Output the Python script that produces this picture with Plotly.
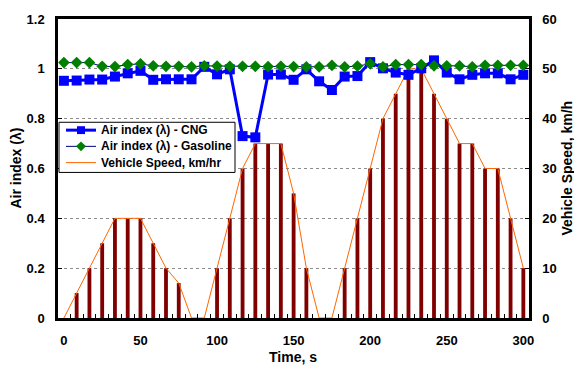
import plotly.graph_objects as go

time_s = [0, 8.33, 16.67, 25, 33.33, 41.67, 50, 58.33, 66.67, 75, 83.33, 91.67,
          100, 108.33, 116.67, 125, 133.33, 141.67, 150, 158.33, 166.67, 175,
          183.33, 191.67, 200, 208.33, 216.67, 225, 233.33, 241.67, 250, 258.33,
          266.67, 275, 283.33, 291.67, 300]

speed_kmh = [0, 5, 10, 15, 20, 20, 20, 15, 10, 7, 0, 0,
             10, 20, 30, 35, 35, 35, 25, 10, 0, 0,
             10, 20, 30, 40, 45, 50, 50, 45, 40, 35,
             35, 30, 30, 20, 10]

lambda_cng = [0.952, 0.953, 0.957, 0.957, 0.969, 0.982, 0.992, 0.956, 0.958, 0.958, 0.958, 1.008,
              0.978, 0.998, 0.730, 0.725, 0.977, 0.977, 0.956, 0.998, 0.950, 0.915,
              0.969, 0.971, 1.027, 1.002, 0.985, 0.976, 1.002, 1.034, 0.985, 0.958,
              0.976, 0.982, 0.982, 0.958, 0.976]

lambda_gasoline = [1.025, 1.025, 1.025, 1.010, 1.009, 1.017, 1.020, 1.012, 1.010, 1.010, 1.008, 1.012,
                   1.011, 1.010, 1.010, 1.010, 1.009, 1.010, 1.009, 1.008, 1.008, 1.014,
                   1.008, 1.011, 1.020, 1.008, 1.017, 1.017, 1.017, 1.012, 1.012, 1.012,
                   1.008, 1.014, 1.014, 1.014, 1.014]

x_ticks = [0, 50, 100, 150, 200, 250, 300]

series_names = ["Air index (λ) - CNG", "Air index (λ) - Gasoline", "Vehicle Speed, km/hr"]

FONT = "Arial, Liberation Sans, sans-serif"
C_CNG, C_GAS_LINE, C_GAS_MK, C_SPEED, C_BAR = "#0000FF", "#000080", "#008000", "#FF6600", "#800000"

W, H = 574, 374
ML, MR, MT, MB = 58, 45, 14, 56
pw, ph = W - ML - MR, H - MT - MB


def px_x(px):
    return (px - ML) / pw


def px_y(py):
    return (H - MB - py) / ph


fig = go.Figure()

fig.add_trace(go.Bar(x=time_s, y=speed_kmh, width=2.5, marker=dict(color=C_BAR, line=dict(width=0)),
                     showlegend=False, yaxis="y", hoverinfo="skip"))
fig.add_trace(go.Scatter(x=time_s, y=speed_kmh, mode="lines", name=series_names[2],
                         line=dict(color=C_SPEED, width=1), yaxis="y", showlegend=False))
fig.add_trace(go.Scatter(x=time_s, y=lambda_cng, mode="lines+markers", name=series_names[0],
                         line=dict(color=C_CNG, width=3),
                         marker=dict(symbol="square", size=10, color=C_CNG),
                         yaxis="y2", showlegend=False))
fig.add_trace(go.Scatter(x=time_s, y=lambda_gasoline, mode="lines+markers", name=series_names[1],
                         line=dict(color=C_GAS_LINE, width=1),
                         marker=dict(symbol="diamond", size=9, color=C_GAS_MK),
                         yaxis="y2", showlegend=False))

axis_font = dict(family=FONT, size=13, color="black", weight="bold")

# ---- manual legend box (pixel layout) ----
lg_left, lg_right, lg_top, lg_bot = 59, 235, 119, 170
rows = [127, 143.5, 160]
line_x0, line_x1, mk_x, txt_x = 66, 96, 81, 99

shapes = [dict(type="rect", xref="paper", yref="paper",
               x0=px_x(lg_left), x1=px_x(lg_right), y0=px_y(lg_bot), y1=px_y(lg_top),
               fillcolor="white", line=dict(color="black", width=1), layer="above")]
styles = [(C_CNG, 3), (C_GAS_LINE, 1), (C_SPEED, 1)]
for (col, lw), ry in zip(styles, rows):
    shapes.append(dict(type="line", xref="paper", yref="paper",
                       x0=px_x(line_x0), x1=px_x(line_x1), y0=px_y(ry), y1=px_y(ry),
                       line=dict(color=col, width=lw), layer="above"))
# square marker for CNG
s = 4
shapes.append(dict(type="rect", xref="paper", yref="paper",
                   x0=px_x(mk_x - s), x1=px_x(mk_x + s), y0=px_y(rows[0] + s), y1=px_y(rows[0] - s),
                   fillcolor=C_CNG, line=dict(width=0), layer="above"))
# diamond marker for gasoline
d = 5
cx, cy = px_x(mk_x), px_y(rows[1])
dx, dy = d / pw, d / ph
shapes.append(dict(type="path", xref="paper", yref="paper",
                   path=f"M {cx - dx} {cy} L {cx} {cy + dy} L {cx + dx} {cy} L {cx} {cy - dy} Z",
                   fillcolor=C_GAS_MK, line=dict(width=0), layer="above"))

annotations = [
    dict(text="<b>Time, s</b>", x=px_x(293), y=px_y(358), xref="paper", yref="paper",
         xanchor="center", yanchor="middle", showarrow=False, font=dict(family=FONT, size=14)),
    dict(text="<b>Air index (λ)</b>", x=px_x(15), y=px_y(166), xref="paper", yref="paper",
         xanchor="center", yanchor="middle", showarrow=False, textangle=-90,
         font=dict(family=FONT, size=14)),
    dict(text="<b>Vehicle Speed, km/h</b>", x=px_x(566), y=px_y(166), xref="paper", yref="paper",
         xanchor="center", yanchor="middle", showarrow=False, textangle=-90,
         font=dict(family=FONT, size=14)),
]
for name, ry in zip(series_names, rows):
    annotations.append(dict(text=f"<b>{name}</b>", x=px_x(txt_x), y=px_y(ry), xref="paper", yref="paper",
                            xanchor="left", yanchor="middle", showarrow=False,
                            font=dict(family=FONT, size=12, color="black")))

fig.update_layout(
    width=W, height=H,
    margin=dict(l=ML, r=MR, t=MT, b=MB),
    paper_bgcolor="white", plot_bgcolor="white",
    font=dict(family=FONT, size=12, color="black"),
    showlegend=False,
    xaxis=dict(range=[-3.85, 303.7], tickmode="array", tickvals=x_ticks, ticks="",
               showline=True, linecolor="black", linewidth=2.5, mirror=True,
               showgrid=False, zeroline=False, tickfont=axis_font, ticklabelstandoff=9,
               minor=dict(tick0=4.1667, dtick=8.3333, ticks="inside", ticklen=4,
                          tickcolor="black", tickwidth=1, showgrid=False)),
    yaxis=dict(range=[0, 60], dtick=10, side="right", ticks="inside", ticklen=4,
               tickcolor="black", showline=True, linecolor="black", linewidth=2.5,
               showgrid=True, gridcolor="#8c8c8c", griddash="dot", gridwidth=1,
               zeroline=False, tickfont=axis_font, ticklabelstandoff=8),
    yaxis2=dict(range=[0, 1.2], dtick=0.2, side="left", overlaying="y", anchor="x",
                ticks="inside", ticklen=4, tickcolor="black", showline=True,
                linecolor="black", linewidth=2.5, showgrid=False, zeroline=False,
                tickfont=axis_font, ticklabelstandoff=8),
    shapes=shapes,
    annotations=annotations,
)

fig.write_html("out.html")
